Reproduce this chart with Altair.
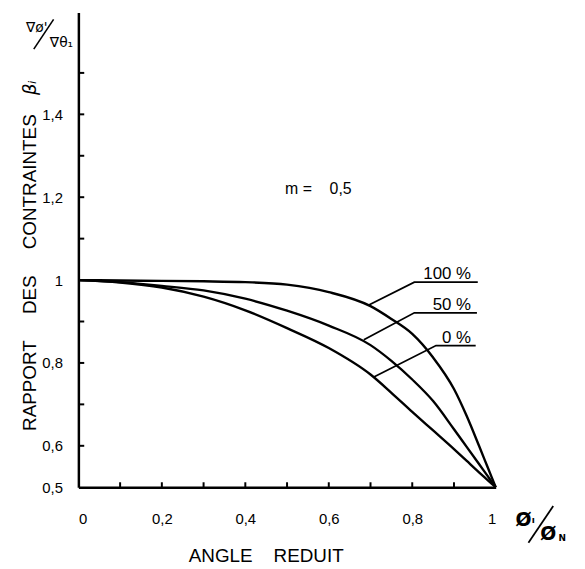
import altair as alt
import pandas as pd

# ---- data ----
x_pts = [0.0, 0.1, 0.2, 0.3, 0.4, 0.5, 0.6, 0.7, 0.75, 0.8, 0.85, 0.9, 0.93, 0.96, 0.98, 1.0]
y_100 = [1.0, 0.999, 0.998, 0.997, 0.995, 0.989, 0.971, 0.937, 0.906, 0.870, 0.813, 0.737, 0.673, 0.600, 0.550, 0.5]
y_50 = [1.0, 0.995, 0.986, 0.975, 0.955, 0.926, 0.890, 0.843, 0.805, 0.760, 0.708, 0.640, 0.598, 0.556, 0.528, 0.5]
y_0 = [1.0, 0.994, 0.982, 0.960, 0.927, 0.884, 0.836, 0.772, 0.728, 0.682, 0.637, 0.592, 0.564, 0.536, 0.518, 0.5]
series_names = ["100 %", "50 %", "0 %"]

# leader lines (point on curve -> elbow -> end of underline)
lead_x = [[0.696, 0.805, 0.957], [0.684, 0.805, 0.955], [0.708, 0.857, 0.952]]
lead_y = [[0.940, 0.995, 0.995], [0.856, 0.921, 0.921], [0.766, 0.842, 0.842]]
label_x = 0.941

x_tick_vals = [0.1, 0.2, 0.3, 0.4, 0.5, 0.6, 0.7, 0.8, 0.9]
y_tick_vals = [0.6, 0.7, 0.8, 0.9, 1.0, 1.1, 1.2, 1.3, 1.4, 1.5]
x_label_vals = [0, 0.2, 0.4, 0.6, 0.8, 1]
y_label_vals = [0.5, 0.6, 0.8, 1, 1.2, 1.4]

NB = "\u00a0"
m_text = ["m =" + NB * 4 + "0,5"]
m_pos = [0.575, 1.22]

FONT = "Liberation Sans"

rows = []
for name, ys in zip(series_names, [y_100, y_50, y_0]):
    for xv, yv in zip(x_pts, ys):
        rows.append({"s": name, "x": xv, "y": yv})
curves = pd.DataFrame(rows)

lrows = []
for name, lx, ly in zip(series_names, lead_x, lead_y):
    for i, (a, b) in enumerate(zip(lx, ly)):
        lrows.append({"s": name, "i": i, "x": a, "y": b})
leaders = pd.DataFrame(lrows)

labels = pd.DataFrame({"t": series_names, "x": [label_x] * 3, "y": [ly[1] for ly in lead_y]})

xt = pd.DataFrame({"x": x_tick_vals, "y0": [0.5] * len(x_tick_vals), "y1": [0.512] * len(x_tick_vals)})
yt = pd.DataFrame({"y": y_tick_vals, "x0": [0.0] * len(y_tick_vals), "x1": [0.014] * len(y_tick_vals)})

XS = alt.Scale(domain=[0, 1], nice=False, zero=False)
YS = alt.Scale(domain=[0.5, 1.646], nice=False, zero=False)

label_expr = "replace(format(datum.value, '~g'), '.', ',')"

x_axis = alt.Axis(
    values=x_label_vals, ticks=False, grid=False,
    domainColor="black", domainWidth=2.5,
    labelExpr=label_expr, labelFont=FONT, labelFontSize=15, labelColor="black",
    labelPadding=25, labelBaseline="top",
    title="ANGLE" + NB * 4 + "REDUIT", titleFont=FONT, titleFontSize=19, titleFontWeight="normal",
    titleColor="black", titleX=189, titleY=75, titleBaseline="alphabetic",
)
y_axis = alt.Axis(
    values=y_label_vals, ticks=False, grid=False,
    domainColor="black", domainWidth=2.5,
    labelExpr=label_expr, labelFont=FONT, labelFontSize=15, labelColor="black",
    labelPadding=16,
    title="RAPPORT" + NB * 5 + "DES" + NB * 5 + "CONTRAINTES", titleFont=FONT, titleFontSize=19,
    titleFontWeight="normal", titleColor="black", titleAngle=270,
    titleX=-43, titleY=262, titleBaseline="alphabetic", titleAlign="center",
)

base_curves = alt.Chart(curves).mark_line(
    color="black", strokeWidth=2.4, interpolate="monotone"
).encode(
    x=alt.X("x:Q", scale=XS, axis=x_axis),
    y=alt.Y("y:Q", scale=YS, axis=y_axis),
    detail="s:N",
)

lead_layer = alt.Chart(leaders).mark_line(color="black", strokeWidth=1.8).encode(
    x=alt.X("x:Q", scale=XS), y=alt.Y("y:Q", scale=YS), detail="s:N", order="i:Q"
)

label_layer = alt.Chart(labels).mark_text(
    font=FONT, fontSize=17, align="right", baseline="alphabetic", dy=-3, color="black"
).encode(x=alt.X("x:Q", scale=XS), y=alt.Y("y:Q", scale=YS), text="t:N")

xt_layer = alt.Chart(xt).mark_rule(color="black", strokeWidth=2).encode(
    x=alt.X("x:Q", scale=XS), y=alt.Y("y0:Q", scale=YS), y2="y1:Q"
)
yt_layer = alt.Chart(yt).mark_rule(color="black", strokeWidth=2).encode(
    y=alt.Y("y:Q", scale=YS), x=alt.X("x0:Q", scale=XS), x2="x1:Q"
)

m_layer = alt.Chart(pd.DataFrame({"t": m_text, "x": [m_pos[0]], "y": [m_pos[1]]})).mark_text(
    font=FONT, fontSize=16, color="black"
).encode(x=alt.X("x:Q", scale=XS), y=alt.Y("y:Q", scale=YS), text="t:N")

one = pd.DataFrame({"k": [0]})


def txt(s, x, y, size, font=FONT, angle=0, style="normal", weight="normal", align="center"):
    return alt.Chart(one).mark_text(
        text=s, font=font, fontSize=size, angle=angle, fontStyle=style,
        fontWeight=weight, align=align, baseline="alphabetic", color="black"
    ).encode(x=alt.value(x), y=alt.value(y))


beta = txt("βᵢ", -43, 76, 18, font="DejaVu Sans", angle=270, style="italic")
sig1 = txt("∇ø'", -42, 20, 14, font="DejaVu Sans")
sig2 = txt("∇θ₁", -17, 35, 14, font="DejaVu Sans")
slash1 = alt.Chart(one).mark_rule(color="black", strokeWidth=1.6).encode(
    x=alt.value(-45), y=alt.value(37), x2=alt.value(-25), y2=alt.value(7)
)
phi1 = txt("Ø", 449, 518, 19, font="DejaVu Sans", weight="bold")
phi1s = txt("ı", 459, 515, 9, font="DejaVu Sans", weight="bold")
slash2 = alt.Chart(one).mark_rule(color="black", strokeWidth=1.8).encode(
    x=alt.value(454), y=alt.value(535), x2=alt.value(479), y2=alt.value(498)
)
phi2 = txt("Ø", 474, 532, 19, font="DejaVu Sans", weight="bold")
phi2s = txt("N", 488, 533, 9, font="DejaVu Sans", weight="bold")

chart = alt.layer(
    base_curves, lead_layer, label_layer, xt_layer, yt_layer, m_layer,
    beta, sig1, sig2, slash1, phi1, phi1s, slash2, phi2, phi2s,
).properties(
    width=421, height=479,
    padding={"left": 71, "top": 2, "right": 82, "bottom": 76},
    autosize=alt.AutoSizeParams(type="none"),
).configure_view(stroke=None)

chart.save("out.html", embed_options={"renderer": "svg", "actions": False})
